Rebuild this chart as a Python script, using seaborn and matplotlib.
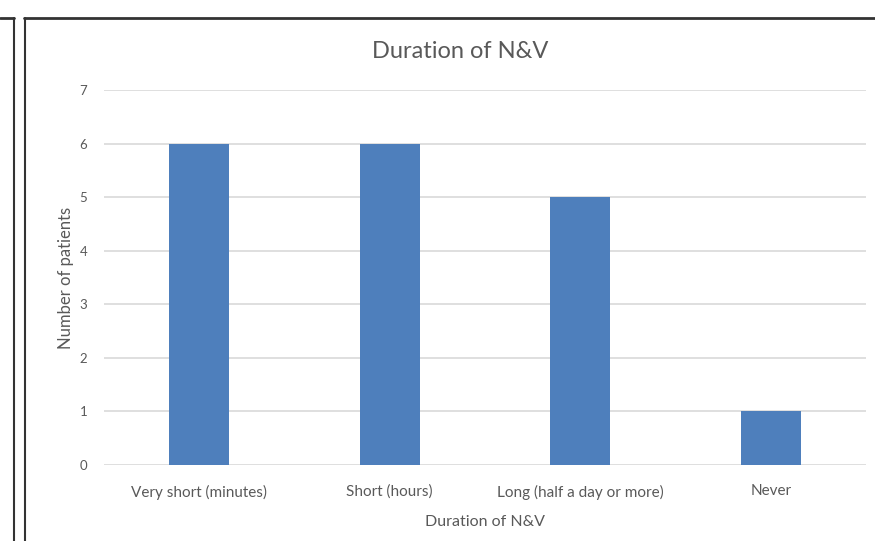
import matplotlib
matplotlib.use("Agg")
import matplotlib.pyplot as plt
import seaborn as sns
import pandas as pd
from matplotlib.lines import Line2D

categories = ["Very short (minutes)", "Short (hours)", "Long (half a day or more)", "Never"]
patients = [6, 6, 5, 1]
yticks = [0, 1, 2, 3, 4, 5, 6, 7]

df = pd.DataFrame({"Duration": categories, "Patients": patients})

sns.set_theme(style="white")
plt.rcParams["font.family"] = ["Lato", "DejaVu Sans"]

W, H = 875, 541
fig = plt.figure(figsize=(W / 100, H / 100), dpi=100)
fig.patch.set_facecolor("white")

# axes in pixel coords: x 104..866, y 90..465
ax = fig.add_axes([104 / W, 1 - 465 / H, (866 - 104) / W, (465 - 90) / H])
ax.set_facecolor("white")

sns.barplot(data=df, x="Duration", y="Patients", color="#4e7fbc", width=0.315,
            saturation=1, linewidth=0, ax=ax, zorder=3)

ax.set_ylim(0, 7)
ax.set_xlim(-0.5, 3.5)
ax.set_yticks(yticks)
ax.yaxis.grid(True, color="#d9d9d9", linewidth=1.2, zorder=0)
ax.set_axisbelow(True)
for s in ax.spines.values():
    s.set_visible(False)
ax.tick_params(axis="both", length=0, colors="#595959")
ax.tick_params(axis="y", labelsize=9.5, pad=12)
ax.tick_params(axis="x", labelsize=11, pad=14)
ax.set_xlabel("Duration of N&V", fontsize=11.5, color="#595959", labelpad=11)
ax.set_ylabel("Number of patients", fontsize=12, color="#595959", labelpad=4)
fig.text(460 / W, 1 - 52 / H, "Duration of N&V", fontsize=17, color="#595959",
         ha="center", va="center")

# document frame lines
fig.add_artist(Line2D([24 / W, 1], [1 - 18 / H, 1 - 18 / H], transform=fig.transFigure,
                      color="#333333", linewidth=2))
fig.add_artist(Line2D([0, 14 / W], [1 - 18 / H, 1 - 18 / H], transform=fig.transFigure,
                      color="#333333", linewidth=2))
fig.add_artist(Line2D([14 / W, 14 / W], [0, 1 - 18 / H], transform=fig.transFigure,
                      color="#333333", linewidth=1.5))
fig.add_artist(Line2D([25 / W, 25 / W], [0, 1 - 18 / H], transform=fig.transFigure,
                      color="#333333", linewidth=1.5))

fig.savefig("out.png", dpi=100)
